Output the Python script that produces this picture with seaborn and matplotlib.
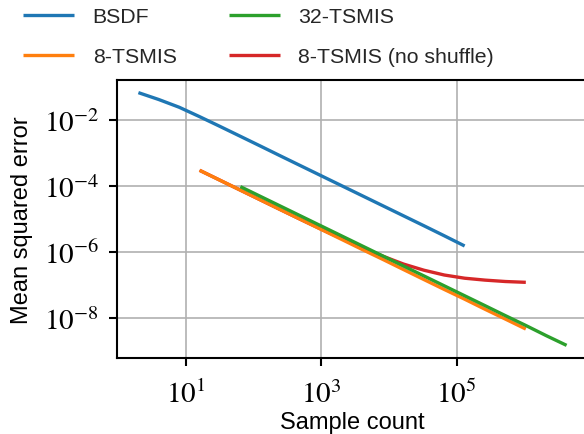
import numpy as np
import pandas as pd
import matplotlib
matplotlib.use("Agg")
import matplotlib.pyplot as plt
import matplotlib.ticker as mticker
import seaborn as sns

# ---- data ----
bsdf_x = [2, 4, 8, 16, 32, 64, 128, 256, 512, 1024, 2048, 4096, 8192,
          16384, 32768, 65536, 131072]
bsdf_y = [6.8e-2, 4.2e-2, 2.45e-2, 1.27e-2, 6.43e-3, 3.22e-3, 1.61e-3, 8.0e-4,
          4.0e-4, 2.0e-4, 1.0e-4, 5.0e-5, 2.5e-5, 1.25e-5, 6.25e-6,
          3.1e-6, 1.52e-6]

tsmis8_x = [16, 32, 64, 128, 256, 512, 1024, 2048, 4096, 8192, 16384,
            32768, 65536, 131072, 262144, 524288, 1048576]
tsmis8_y = [3.0e-4, 1.5e-4, 7.5e-5, 3.75e-5, 1.87e-5, 9.4e-6, 4.7e-6,
            2.35e-6, 1.17e-6, 5.9e-7, 2.93e-7, 1.46e-7, 7.3e-8, 3.7e-8,
            1.83e-8, 9.2e-9, 4.6e-9]

tsmis32_x = [64, 128, 256, 512, 1024, 2048, 4096, 8192, 16384, 32768,
             65536, 131072, 262144, 524288, 1048576, 2097152, 4194304]
tsmis32_y = [9.6e-5, 4.8e-5, 2.4e-5, 1.2e-5, 6.0e-6, 3.0e-6, 1.5e-6,
             7.5e-7, 3.75e-7, 1.88e-7, 9.4e-8, 4.7e-8, 2.35e-8, 1.17e-8,
             5.9e-9, 2.9e-9, 1.47e-9]

noshuf_x = [16, 32, 64, 128, 256, 512, 1024, 2048, 4096, 8192, 16384,
            32768, 65536, 131072, 262144, 524288, 1048576]
noshuf_y = [3.0e-4, 1.5e-4, 7.5e-5, 3.75e-5, 1.875e-5, 9.4e-6, 4.8e-6,
            2.5e-6, 1.32e-6, 7.4e-7, 4.3e-7, 2.8e-7, 2.0e-7, 1.6e-7,
            1.4e-7, 1.27e-7, 1.2e-7]

labels = ["BSDF", "8-TSMIS", "32-TSMIS", "8-TSMIS (no shuffle)"]
colors = ["#1f77b4", "#ff7f0e", "#2ca02c", "#d62728"]
x_ticks = [1e1, 1e3, 1e5]
y_ticks = [1e-8, 1e-6, 1e-4, 1e-2]

frames = []
for lab, xs, ys in zip(labels, [bsdf_x, tsmis8_x, tsmis32_x, noshuf_x],
                       [bsdf_y, tsmis8_y, tsmis32_y, noshuf_y]):
    frames.append(pd.DataFrame({"x": xs, "y": ys, "method": lab}))
df = pd.concat(frames, ignore_index=True)

# ---- style ----
sns.set_theme(style="ticks")
plt.rcParams["font.family"] = ["Liberation Sans", "DejaVu Sans"]
plt.rcParams["mathtext.fontset"] = "stix"

W, H = 584, 435
fig = plt.figure(figsize=(W / 100, H / 100), dpi=100)
ax = fig.add_axes([117 / W, 1 - 359 / H, (588 - 117) / W, (359 - 81) / H])

sns.lineplot(data=df, x="x", y="y", hue="method", hue_order=labels,
             palette=colors, linewidth=2.4, ax=ax, legend=False,
             estimator=None, sort=False)
ax.set_xscale("log")
ax.set_yscale("log")

for line, lab in zip(ax.lines, labels):
    line.set_label(lab)
    line.set_solid_capstyle("butt")
    line.set_solid_joinstyle("round")
    if lab == "8-TSMIS (no shuffle)":
        line.set_zorder(1.9)
    else:
        line.set_zorder(2.1)

ax.xaxis.set_major_locator(mticker.FixedLocator(x_ticks))
ax.yaxis.set_major_locator(mticker.FixedLocator(y_ticks))
ax.xaxis.set_minor_locator(mticker.NullLocator())
ax.yaxis.set_minor_locator(mticker.NullLocator())
fmt = mticker.FuncFormatter(lambda v, p: r"$10^{%d}$" % int(round(np.log10(v))))
ax.xaxis.set_major_formatter(fmt)
ax.yaxis.set_major_formatter(fmt)

ax.grid(True, which="major", color="#b0b0b0", linewidth=1.2)
ax.set_axisbelow(True)
for s in ax.spines.values():
    s.set_color("black")
    s.set_linewidth(1.5)
ax.tick_params(axis="both", which="major", length=6, width=1.5,
               color="black", labelsize=21, labelcolor="black")
ax.tick_params(axis="x", pad=9.5)
ax.tick_params(axis="y", pad=7)

ax.set_xlabel("Sample count", fontsize=17, color="black", labelpad=2)
ax.set_ylabel("Mean squared error", fontsize=17, color="black", labelpad=8)

handles = [ax.lines[i] for i in range(4)]
fig.legend(handles, labels, loc="upper left",
           bbox_to_anchor=(23 / W, 1 - 8 / H), ncol=2, frameon=False,
           fontsize=15.3, handlelength=2.4, handletextpad=0.88,
           columnspacing=2.45, labelspacing=1.0, borderpad=0,
           borderaxespad=0)

fig.savefig("out.png", dpi=100)
